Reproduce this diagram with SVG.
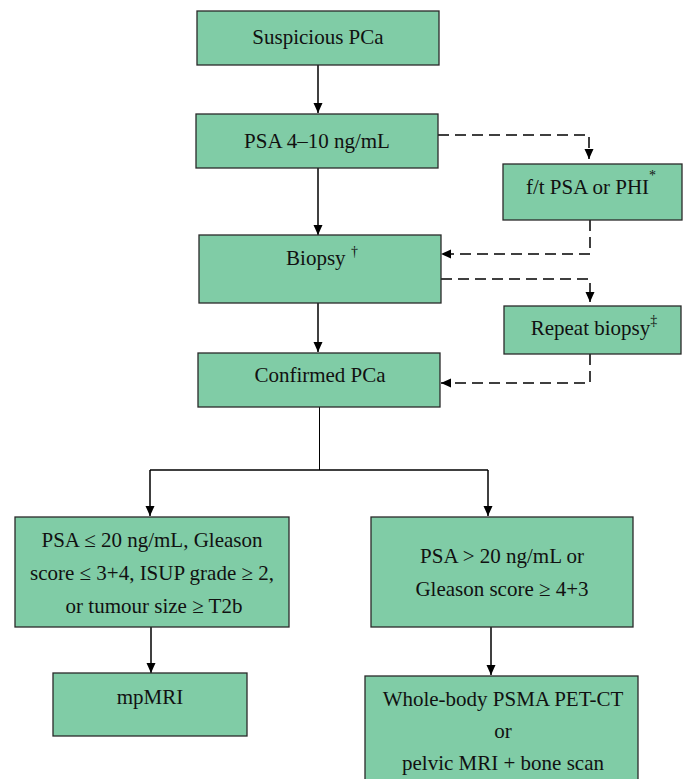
<svg xmlns="http://www.w3.org/2000/svg" width="687" height="779" viewBox="0 0 687 779">
<defs>
<style>
.box{fill:#80cca6;stroke:#2a2a2a;stroke-width:1.3}
.t{font-family:"Liberation Serif","Times New Roman",serif;font-size:21px;fill:#111;text-anchor:middle}
.sup{font-size:14px}
.ln{fill:none;stroke:#000;stroke-width:1.5}
.dash{fill:none;stroke:#000;stroke-width:1.5;stroke-dasharray:11,6}
</style>
<marker id="ah" markerUnits="userSpaceOnUse" markerWidth="10" markerHeight="10" refX="10" refY="5" orient="auto">
<path d="M0,0.5 L10,5 L0,9.5 z" fill="#000"/>
</marker>
</defs>
<rect width="687" height="779" fill="#fff"/>
<g id="connectors">
<line class="ln" x1="318" y1="65" x2="318" y2="113" marker-end="url(#ah)"/>
<line class="ln" x1="318" y1="168" x2="318" y2="235" marker-end="url(#ah)"/>
<line class="ln" x1="318" y1="303" x2="318" y2="352" marker-end="url(#ah)"/>
<path class="dash" d="M438,135 H589 V159" marker-end="url(#ah)"/>
<path class="dash" d="M590,220 V254 H441" marker-end="url(#ah)"/>
<path class="dash" d="M441,279 H590 V302" marker-end="url(#ah)"/>
<path class="dash" d="M590,354 V383 H441" marker-end="url(#ah)"/>
<path d="M319.5,407 V470" fill="none" stroke="#000" stroke-width="1"/>
<path class="ln" d="M150,470 H488"/>
<line class="ln" x1="150" y1="470" x2="150" y2="516" marker-end="url(#ah)"/>
<line class="ln" x1="488" y1="470" x2="488" y2="516" marker-end="url(#ah)"/>
<line class="ln" x1="151" y1="627" x2="151" y2="673" marker-end="url(#ah)"/>
<line class="ln" x1="491" y1="627" x2="491" y2="675" marker-end="url(#ah)"/>
</g>
<g id="suspicious">
<rect class="box" x="197" y="11" width="242" height="54"/>
<text class="t" x="318" y="44">Suspicious PCa</text>
</g>
<g id="psa410">
<rect class="box" x="196" y="114" width="242" height="54"/>
<text class="t" x="317" y="148">PSA 4–10 ng/mL</text>
</g>
<g id="ftpsa">
<rect class="box" x="503" y="164" width="179" height="56"/>
<text class="t" x="591" y="194">f/t PSA or PHI<tspan class="sup" dy="-14">*</tspan></text>
</g>
<g id="biopsy">
<rect class="box" x="199" y="235" width="242" height="68"/>
<text class="t" x="322" y="265">Biopsy <tspan class="sup" font-size="18" dy="-9">†</tspan></text>
</g>
<g id="repeat">
<rect class="box" x="504" y="306" width="177" height="48"/>
<text class="t" x="594" y="335">Repeat biopsy<tspan class="sup" font-size="15" dy="-10">‡</tspan></text>
</g>
<g id="confirmed">
<rect class="box" x="198" y="353" width="242" height="54"/>
<text class="t" x="320" y="382">Confirmed PCa</text>
</g>
<g id="lowrisk">
<rect class="box" x="15" y="517" width="274" height="110"/>
<text class="t" x="152" y="547">PSA ≤ 20 ng/mL, Gleason</text>
<text class="t" x="152" y="580">score ≤ 3+4, ISUP grade ≥ 2,</text>
<text class="t" x="154" y="613">or tumour size ≥ T2b</text>
</g>
<g id="highrisk">
<rect class="box" x="371" y="517" width="262" height="110"/>
<text class="t" x="502" y="563">PSA &gt; 20 ng/mL or</text>
<text class="t" x="502" y="596">Gleason score ≥ 4+3</text>
</g>
<g id="mpmri">
<rect class="box" x="53" y="673" width="194" height="63"/>
<text class="t" x="150" y="704">mpMRI</text>
</g>
<g id="psma">
<rect class="box" x="365" y="676" width="273" height="120"/>
<text class="t" x="503" y="706">Whole-body PSMA PET-CT</text>
<text class="t" x="503" y="738">or</text>
<text class="t" x="503" y="770">pelvic MRI + bone scan</text>
</g>
</svg>
